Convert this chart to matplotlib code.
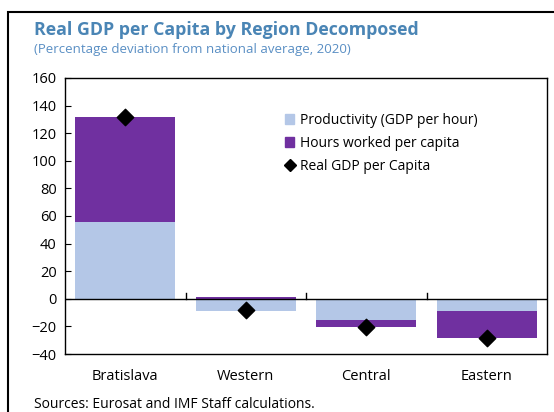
#!/usr/bin/env python3

import matplotlib

matplotlib.use("Agg")
import matplotlib.pyplot as plt
import numpy as np
from matplotlib.lines import Line2D
from matplotlib.patches import Patch, Rectangle

regions = ["Bratislava", "Western", "Central", "Eastern"]
productivity = [56, -9, -15.5, -8.5]
hours_worked = [76, 1, -5, -20]
real_gdp = [132, -8, -20.5, -28.5]
y_ticks = [-40, -20, 0, 20, 40, 60, 80, 100, 120, 140, 160]

LIGHT = "#B4C7E7"
PURPLE = "#7030A0"
FONT = ["Open Sans", "DejaVu Sans"]


def main():
    plt.rcParams["font.family"] = FONT

    fig = plt.figure(figsize=(5.54, 4.12), dpi=100)
    ax = fig.add_axes([65 / 554, 1 - 354 / 412, (547 - 65) / 554, (354 - 78) / 412])

    x = np.arange(len(regions))
    width = 0.83

    # stack: positive parts go up from 0, negative parts go down
    prod = np.array(productivity, dtype=float)
    hours = np.array(hours_worked, dtype=float)
    hours_bottom = np.where(np.sign(hours) == np.sign(prod), prod, 0.0)

    ax.bar(x, prod, width, color=LIGHT, zorder=2)
    ax.bar(x, hours, width, bottom=hours_bottom, color=PURPLE, zorder=2)
    ax.scatter(x, real_gdp, marker="D", s=70, color="black", zorder=4)

    ax.set_xlim(-0.5, len(regions) - 0.5)
    ax.set_ylim(-40, 160)
    ax.set_yticks(y_ticks)
    ax.tick_params(axis="y", direction="in", length=4, labelsize=10.5, pad=6)

    # x axis line at zero with boundary ticks pointing up
    ax.axhline(0, color="black", lw=1, zorder=3)
    ax.set_xticks([])
    for b in np.arange(0.5, len(regions) - 0.5, 1):
        ax.plot([b, b], [0, 4], color="black", lw=1, zorder=3)
    for xi, name in zip(x, regions):
        ax.text(xi, -56, name, ha="center", va="center", fontsize=10.5,
                clip_on=False)

    for s in ax.spines.values():
        s.set_linewidth(1)

    handles = [
        Patch(color=LIGHT, label="Productivity (GDP per hour)"),
        Patch(color=PURPLE, label="Hours worked per capita"),
        Line2D([], [], marker="D", color="black", ls="", markersize=6,
               label="Real GDP per Capita"),
    ]
    ax.legend(handles=handles, loc="upper left", bbox_to_anchor=(0.43, 0.92),
              frameon=False, fontsize=10, handlelength=0.7, handleheight=0.7,
              handletextpad=0.4, labelspacing=0.6)

    fig.text(34 / 554, 1 - 30 / 412, "Real GDP per Capita by Region Decomposed",
             fontsize=12.8, fontweight="bold", color="#4A85B5", va="center")
    fig.text(34 / 554, 1 - 50 / 412,
             "(Percentage deviation from national average, 2020)",
             fontsize=9.5, color="#5A8FC4", va="center")
    fig.text(34 / 554, 1 - 404 / 412, "Sources: Eurosat and IMF Staff calculations.",
             fontsize=10, va="center")

    # outer frame, cropped at right and bottom
    fig.patches.append(Rectangle((8 / 554, -0.1), 1.0, 1 - 12 / 412 + 0.1,
                                 transform=fig.transFigure, fill=False,
                                 lw=1.5, ec="black"))

    fig.savefig("out.png", dpi=100)
    plt.close(fig)


if __name__ == "__main__":
    main()
